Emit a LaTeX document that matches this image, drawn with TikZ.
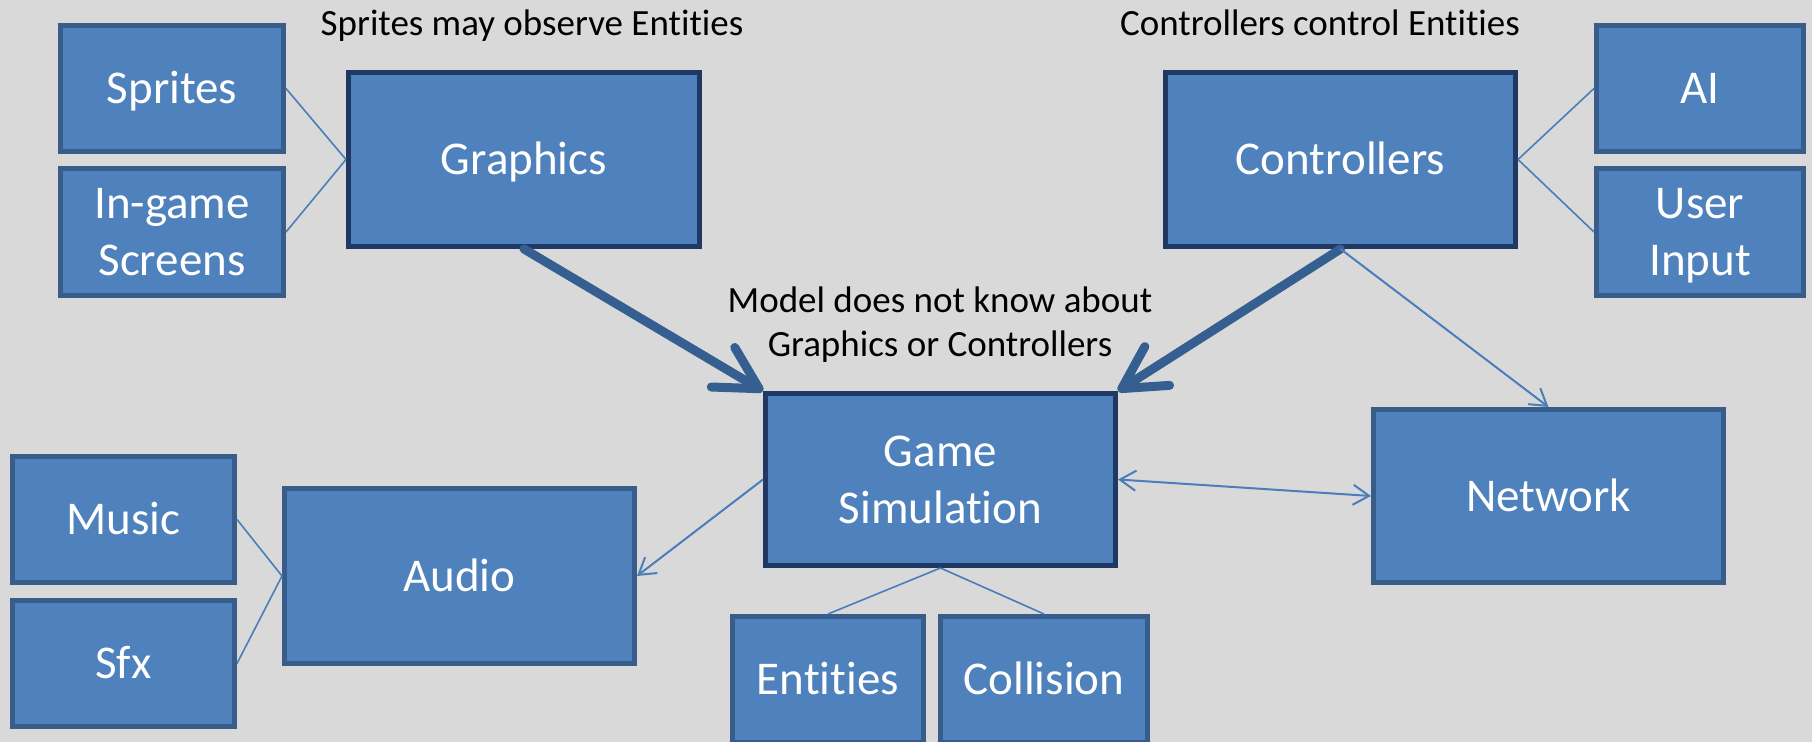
\documentclass[tikz,border=0pt]{standalone}
\usepackage{fontspec}
\setmainfont{Carlito}[Ligatures={NoCommon,NoContextual}]
\usetikzlibrary{arrows.meta}
\definecolor{bgcol}{HTML}{D9D9D9}
\definecolor{boxfill}{HTML}{4F81BD}
\definecolor{boxline}{HTML}{385D8A}
\definecolor{darkline}{HTML}{1F3864}
\definecolor{arrowdark}{HTML}{365F91}
\definecolor{linkblue}{HTML}{4A7EBB}
\newcommand{\bs}{\rule[-5.5pt]{0pt}{26.2pt}}
\newcommand{\ns}{\rule[-4.5pt]{0pt}{19.5pt}}
\begin{document}
\begin{tikzpicture}[x=0.5pt,y=-0.5pt,
  box/.style={draw=boxline, fill=boxfill, line width=2.5pt, text=white, align=center,
    inner sep=0pt, font=\fontsize{23.5}{28.5}\selectfont},
  mainbox/.style={box, draw=darkline},
  notetext/.style={text=black, align=center, inner sep=0pt, font=\fontsize{18.5}{22}\selectfont},
  linkline/.style={draw=linkblue, line width=0.8pt},
  thinarrow/.style={draw=linkblue, line width=1pt, -{Straight Barb[length=8pt,width=10pt]}},
  thinboth/.style={draw=linkblue, line width=1pt, {Straight Barb[length=8pt,width=10pt]}-{Straight Barb[length=8pt,width=10pt]}},
  bigarrow/.style={draw=arrowdark, line width=4.5pt, line cap=round, -{Straight Barb[length=21pt,width=23pt,round]}}
]
\clip (0,0) rectangle (1812,742);
\fill[bgcol] (0,0) rectangle (1812,742);
\useasboundingbox (0,0) rectangle (1812,742);

% boxes
\node[box, minimum width=111.5pt, minimum height=63pt] (sprites) at (172,88.5) {\bs Sprites};
\node[box, minimum width=111.5pt, minimum height=63.5pt] (ingame) at (172,232) {\bs In-game\\\bs Screens};
\node[mainbox, minimum width=175.5pt, minimum height=87pt] (graphics) at (524,159.5) {\bs Graphics};
\node[mainbox, minimum width=175pt, minimum height=87pt] (controllers) at (1340.5,159.5) {\bs Controllers};
\node[box, minimum width=103.5pt, minimum height=63pt] (ai) at (1700,88.5) {\bs AI};
\node[box, minimum width=103.5pt, minimum height=63.5pt] (userinput) at (1700,232) {\bs User\\\bs Input};
\node[mainbox, minimum width=175pt, minimum height=86pt] (gamesim) at (940.5,479.5) {\bs Game\\\bs Simulation};
\node[box, minimum width=175pt, minimum height=86.5pt] (network) at (1548.5,496) {\bs Network};
\node[box, minimum width=111pt, minimum height=63pt] (music) at (123.5,519.5) {\bs Music};
\node[box, minimum width=111pt, minimum height=63pt] (sfx) at (123.5,663.5) {\bs Sfx};
\node[box, minimum width=175pt, minimum height=87.5pt] (audio) at (459.5,576) {\bs Audio};
\node[box, minimum width=95.5pt, minimum height=63pt] (entities) at (828,679.5) {\bs Entities};
\node[box, minimum width=103.5pt, minimum height=63pt] (collision) at (1044,679.5) {\bs Collision};

% notes
\node[notetext] (note1) at (532,25.5) {\ns Sprites may observe Entities};
\node[notetext] (note2) at (1320,25.5) {\ns Controllers control Entities};
\node[notetext] (note3) at (940,324.5) {\ns Model does not know about\\\ns Graphics or Controllers};

% connectors
\draw[linkline] (sprites.east) -- (graphics.west);
\draw[linkline] (ingame.east) -- (graphics.west);
\draw[linkline] (ai.west) -- (controllers.east);
\draw[linkline] (userinput.west) -- (controllers.east);
\draw[linkline] (music.east) -- (audio.west);
\draw[linkline] (sfx.east) -- (audio.west);
\draw[linkline] (gamesim.south) -- (entities.north);
\draw[linkline] (gamesim.south) -- (collision.north);

\draw[bigarrow] (graphics.south) -- (gamesim.north west);
\draw[bigarrow] (controllers.south) -- (gamesim.north east);
\draw[thinarrow] (controllers.south) -- (network.north);
\draw[thinboth] (gamesim.east) -- (network.west);
\draw[thinarrow] (gamesim.west) -- (audio.east);
\end{tikzpicture}
\end{document}
